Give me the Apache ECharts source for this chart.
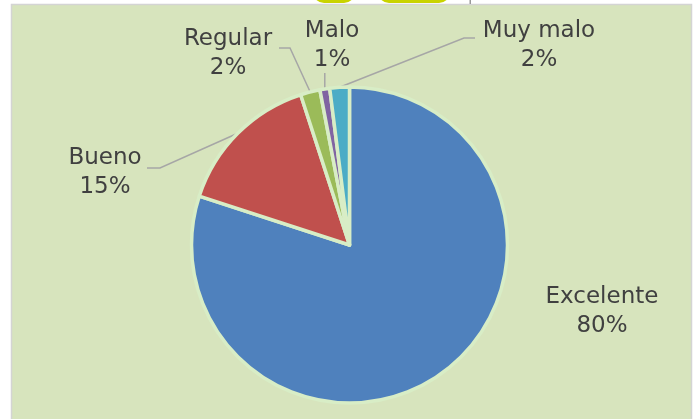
<!DOCTYPE html>
<html>
<head>
<meta charset="utf-8">
<script src="https://cdn.jsdelivr.net/npm/echarts@6/dist/echarts.min.js"></script>
<style>
html,body{margin:0;padding:0;background:#ffffff;}
#chart{width:693px;height:419px;}
</style>
</head>
<body>
<div id="chart"></div>
<script>
// ---- data ----
var categories = ['Excelente', 'Bueno', 'Regular', 'Malo', 'Muy malo'];
var values = [80, 15, 2, 1, 2];

// ---- styling / layout (not data) ----
var sliceColors = ['#4F81BD', '#C0504D', '#9BBB59', '#8064A2', '#4BACC6'];
var labelCenters = [[602, 312], [105, 173], [228, 54], [332, 46], [539, 46]];
// null x means: keep the anchor's x (vertical leader)
var leaderTails = [
  null,
  [[160, 168], [147, 168]],
  [[290, 48], [279, 48]],
  [[null, 73]],
  [[464, 38], [475, 38]]
];

var chart = echarts.init(document.getElementById('chart'), null, {renderer: 'canvas'});

var seriesData = categories.map(function (name, i) {
  return {
    name: name,
    value: values[i],
    itemStyle: {color: sliceColors[i]},
    labelLine: {show: i !== 0}
  };
});

chart.setOption({
  animation: false,
  backgroundColor: '#ffffff',
  graphic: [
    {type: 'rect', z: -10, shape: {x: 11.5, y: 4.5, width: 680, height: 420},
     style: {fill: '#D7E4BD', stroke: '#d4d4d4', lineWidth: 1.5}},
    {type: 'rect', z: -9, shape: {x: 313, y: -20, width: 42, height: 23, r: 11},
     style: {fill: '#C9D300'}},
    {type: 'rect', z: -9, shape: {x: 378, y: -20, width: 72, height: 23, r: 11},
     style: {fill: '#C9D300'}},
    {type: 'rect', z: -9, shape: {x: 469.5, y: 0, width: 1.5, height: 4},
     style: {fill: '#9a9a9a'}}
  ],
  series: [{
    type: 'pie',
    center: [349.5, 245],
    radius: 158,
    startAngle: 90,
    clockwise: true,
    avoidLabelOverlap: false,
    itemStyle: {borderColor: '#D8EDC6', borderWidth: 3.5},
    label: {
      show: true,
      position: 'outside',
      formatter: '{b}\n{c}%',
      fontFamily: 'DejaVu Sans',
      fontSize: 23,
      lineHeight: 29,
      color: '#404040'
    },
    labelLine: {
      show: true,
      length: 10,
      length2: 10,
      lineStyle: {color: '#A6A6A6', width: 1.5}
    },
    labelLayout: function (params) {
      var i = params.dataIndex;
      var res = {
        x: labelCenters[i][0],
        y: labelCenters[i][1],
        align: 'center',
        verticalAlign: 'middle'
      };
      if (leaderTails[i] && params.labelLinePoints) {
        var anchor = params.labelLinePoints[0];
        var pts = [anchor];
        leaderTails[i].forEach(function (p) {
          pts.push([p[0] == null ? anchor[0] : p[0], p[1]]);
        });
        res.labelLinePoints = pts;
      }
      return res;
    },
    emphasis: {disabled: true},
    data: seriesData
  }]
});
</script>
</body>
</html>
